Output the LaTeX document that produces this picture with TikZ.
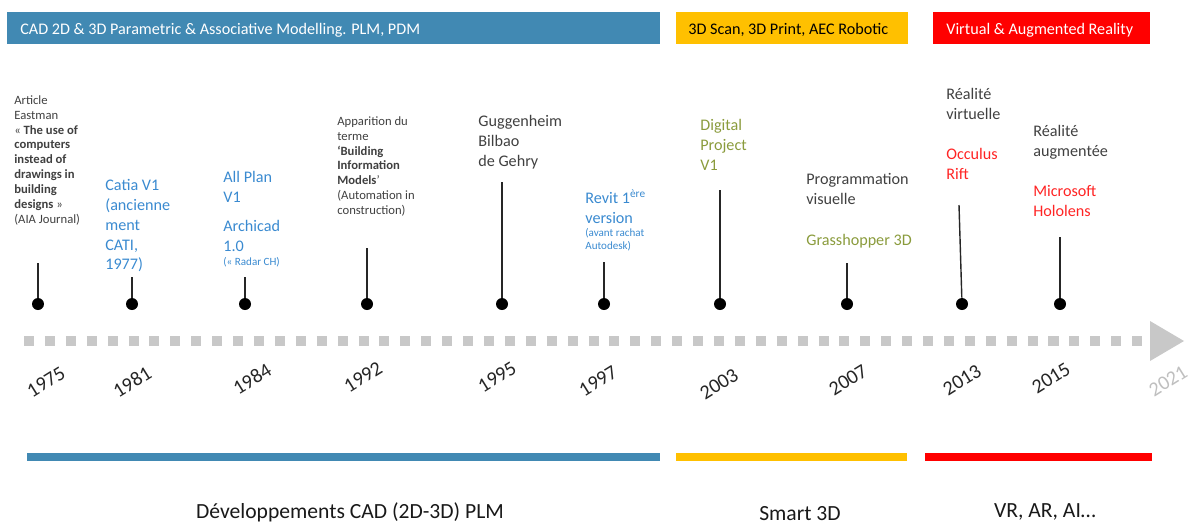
\documentclass[tikz,border=0pt]{standalone}
\usepackage{fontspec}
\setmainfont{Carlito}
\definecolor{barblue}{HTML}{4189B3}
\definecolor{baryellow}{HTML}{FFC000}
\definecolor{barred}{HTML}{FF0000}
\definecolor{txtdark}{HTML}{404040}
\definecolor{txtblue}{HTML}{3A8AD0}
\definecolor{txtgreen}{HTML}{8A9B3C}
\definecolor{txtred}{HTML}{FF2424}
\definecolor{tlgray}{HTML}{C8C8C8}
\newcommand{\fsmain}{\fontsize{9.2}{11.3}\selectfont}
\newcommand{\fssmall}{\fontsize{7.2}{8.5}\selectfont}
\newcommand{\fstiny}{\fontsize{6.3}{7.3}\selectfont}
\newcommand{\fsyear}{\fontsize{11.5}{13}\selectfont}
\newcommand{\fsbottom}{\fontsize{12.3}{14}\selectfont}
\begin{document}
\begin{tikzpicture}[x=0.02cm,y=-0.02cm,
  txt/.style={anchor=north west,inner sep=0pt,align=left,font=\fsmain,text=txtdark},
  smalltxt/.style={txt,font=\fssmall},
  bartxt/.style={anchor=west,inner sep=0pt,font=\fsmain},
  year/.style={inner sep=0pt,rotate=32,font=\fsyear,text=black!85},
  dot/.style={circle,fill=black,inner sep=0pt,minimum size=0.24cm},
  stem/.style={draw=black!85,line width=0.8pt},
  timeline/.style={draw=tlgray,line width=5.7pt,dash pattern=on 5.7pt off 6.2pt},
  bottomtxt/.style={inner sep=0pt,font=\fsbottom,text=black!90}]
\useasboundingbox (0,0) rectangle (1196,525);
% top bars
\fill[barblue] (7,12) rectangle (660,44);
\fill[baryellow] (676,12) rectangle (908,44);
\fill[barred] (933,12) rectangle (1150,44);
\node[bartxt,text=white] (t1) at (20,30) {CAD 2D \& 3D Parametric \& Associative Modelling. PLM, PDM};
\node[bartxt,text=black] (t2) at (688,30) {3D Scan, 3D Print, AEC Robotic};
\node[bartxt,text=white] (t3) at (946,30) {Virtual \& Augmented Reality};
% timeline
\coordinate (tls) at (24,341);
\coordinate (tle) at (1150,341);
\draw[timeline] (tls) -- (tle);
\fill[tlgray] (1150,321) -- (1184,341) -- (1150,361) -- cycle;
% dots and stems
\foreach \n/\x/\t in {a/38/263, b/132/277, c/245/277, d/367/248, e/502/182, f/604/262, g/720/190, h/847/263, j/1060/237}{
  \node[dot] (d\n) at (\x,304) {};
  \coordinate (s\n) at (\x,\t);
  \draw[stem] (s\n) -- (d\n);
}
\node[dot] (di) at (962,304) {};
\coordinate (si) at (959,205);
\draw[stem] (si) -- (di);
% texts
\node[smalltxt] (x1975) at (14,95) {Article\\Eastman\\«\ \textbf{The use of}\\\textbf{computers}\\\textbf{instead of}\\\textbf{drawings in}\\\textbf{building}\\\textbf{designs} »\\(AIA Journal)};
\node[txt,text=txtblue] (x1981) at (105,179) {Catia V1\\(ancienne\\ment\\CATI,\\1977)};
\node[txt,text=txtblue] (x1984a) at (223,171) {All Plan\\V1};
\node[txt,text=txtblue] (x1984b) at (223,220) {Archicad\\1.0};
\node[txt,font=\fstiny,text=txtblue] (x1984c) at (223,257) {(« Radar CH)};
\node[smalltxt] (x1992) at (337,116) {Apparition du\\terme\\\textbf{‘Building}\\\textbf{Information}\\\textbf{Models}’\\(Automation in\\construction)};
\node[txt] (x1995) at (478,115) {Guggenheim\\Bilbao\\de Gehry};
\node[txt,text=txtblue] (x1997a) at (585,189) {Revit 1\textsuperscript{ère}\\version};
\node[txt,font=\fstiny,text=txtblue] (x1997b) at (585,228) {(avant rachat\\Autodesk)};
\node[txt,text=txtgreen] (x2003) at (700,119) {Digital\\Project\\V1};
\node[txt] (x2007a) at (806,173) {Programmation\\visuelle};
\node[txt,text=txtgreen] (x2007b) at (806,234) {Grasshopper 3D};
\node[txt] (x2013a) at (946,88) {Réalité\\virtuelle};
\node[txt,text=txtred] (x2013b) at (946,148) {Occulus\\Rift};
\node[txt] (x2015a) at (1033,125) {Réalité\\augmentée};
\node[txt,text=txtred] (x2015b) at (1033,185) {Microsoft\\Hololens};
% years
\node[year] (y1975) at (46,382) {1975};
\node[year] (y1981) at (132,382) {1981};
\node[year] (y1984) at (252,379) {1984};
\node[year] (y1992) at (363,377) {1992};
\node[year] (y1995) at (497,377) {1995};
\node[year] (y1997) at (598,381) {1997};
\node[year] (y2003) at (719,384) {2003};
\node[year] (y2007) at (848,380) {2007};
\node[year] (y2013) at (962,380) {2013};
\node[year] (y2015) at (1051,378) {2015};
\node[year,text=black!25] (y2021) at (1168,381) {2021};
% bottom bars
\fill[barblue] (27,453) rectangle (660,461);
\fill[baryellow] (676,453) rectangle (907,461);
\fill[barred] (925,453) rectangle (1152,461);
\node[bottomtxt] (b1) at (350,512) {Développements CAD (2D-3D) PLM};
\node[bottomtxt] (b2) at (800,514) {Smart 3D};
\node[bottomtxt] (b3) at (1045,512) {VR, AR, AI…};
\end{tikzpicture}
\end{document}
